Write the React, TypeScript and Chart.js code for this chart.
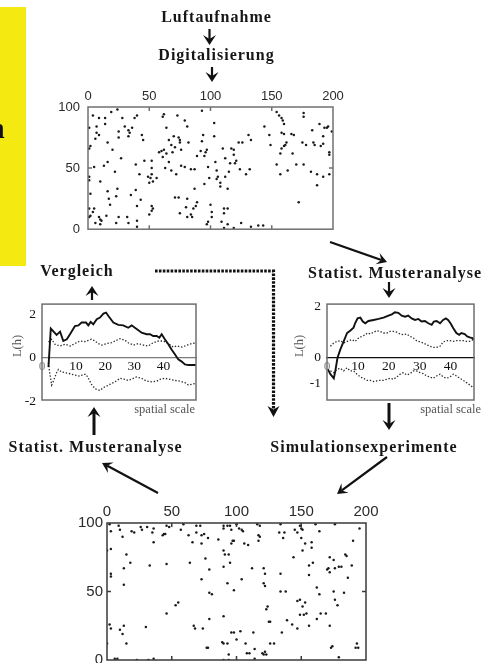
import React, { useEffect, useRef } from "react";
import { Chart, registerables } from "chart.js";
Chart.register(...registerables);

type Pt = [number, number];

// ---------- Data: digitised aerial photograph (x 0..200, y 0..100) ----------
const aerialPoints: Pt[] = [
  [4,93],[19,96],[24,98],[28,91],[9,91],[14,91],[14,86],[7,84],[1,83],[7,79],[9,77],[6,74],[25,80],[25,75],[30,84],[33,81],[34,79],[33,76],[36,83],[38,91],[40,93],[44,77],[45,73],[2,68],[1,66],[16,71],[20,65],[27,58],[5,51],[13,52],[16,55],[22,47],[1,43],[1,40],[2,29],[10,39],[24,33],[16,31],[17,25],[18,20],[23,27],[35,28],[39,32],[39,53],[46,56],[42,45],[40,19],[43,24],[1,17],[5,17],[2,11],[4,14],[1,10],[6,5],[9,10],[10,8],[10,4],[11,7],[15,11],[23,5],[25,10],[32,10],[33,5],[40,7],[40,2],
  [52,56],[52,50],[49,43],[51,42],[52,45],[53,39],[56,42],[50,38],[50,12],[52,19],[53,17],[52,15],[58,63],[61,59],[62,94],[61,92],[64,83],[62,65],[60,64],[63,50],[66,55],[64,62],[66,73],[68,48],[70,76],[68,69],[69,63],[73,93],[74,75],[75,73],[75,71],[76,65],[71,67],[72,45],[79,89],[81,84],[79,51],[82,71],[76,52],[71,26],[74,26],[75,13],[81,25],[80,18],[81,10],[84,12],[85,10],[86,17],[88,19],[87,33],[89,22],[89,60],[87,49],[84,49],
  [93,72],[92,64],[94,77],[93,97],[95,60],[96,63],[98,51],[97,65],[95,37],[97,4],[98,6],[99,42],[100,20],[101,14],[101,10],[103,87],[103,76],[104,55],[105,48],[105,41],[106,43],[108,35],[108,38],[110,66],[109,6],[111,17],[111,13],[111,1],[112,58],[112,43],[114,17],[114,4],[114,33],[115,47],[116,54],[117,66],[119,61],[119,65],[120,54],[121,56],[124,49],[125,5],[123,71],[126,71],[129,45],[131,77],[133,73],[132,49],[119,1],[133,2],[139,3],[143,3],
  [144,84],[148,77],[149,69],[154,96],[156,93],[158,91],[159,89],[160,86],[158,79],[160,78],[157,62],[158,66],[160,68],[161,69],[162,71],[154,53],[157,45],[163,48],[166,78],[168,77],[167,62],[170,53],[172,22],[176,95],[176,92],[175,71],[178,69],[176,53],[183,81],[182,47],[184,71],[185,69],[187,36],[187,45],[189,86],[190,68],[192,76],[192,70],[192,43],[193,83],[195,83],[196,84],[197,63],[197,61],[197,45],[199,80]
];

// ---------- Data: simulated pattern ----------
const simulatedPoints: Pt[] = [
  [2,99],[3,94],[9,98],[10,95],[12,90],[19,94],[21,93],[26,97],[27,95],[31,97],[35,93],[36,96],[36,86],[43,91],[44,92],[45,92],[46,98],[48,97],[57,95],[59,99],[63,91],[66,86],[69,93],[69,98],[72,98],[73,91],[75,92],[73,85],[78,89],[86,88],[90,98],[90,96],[93,98],[95,98],[96,95],[97,87],[96,85],[98,87],[100,99],[102,96],[104,95],[105,94],[106,85],[109,84],[116,99],[118,98],[117,91],[118,90],[117,87],[134,99],[133,93],[136,89],[137,93],[145,95],[147,93],[149,98],[150,96],[151,95],[150,89],[151,80],[153,85],[158,86],[158,82],[161,99],[164,94],[176,99],[190,87],[195,96],
  [0,80],[3,81],[15,77],[18,71],[13,67],[3,63],[3,61],[13,55],[33,69],[46,70],[64,71],[76,74],[79,66],[73,59],[81,48],[79,49],[90,80],[91,77],[90,68],[94,77],[95,71],[98,51],[93,56],[104,59],[112,67],[121,67],[122,63],[121,56],[122,54],[124,39],[123,37],[134,63],[134,50],[138,50],[144,75],[147,43],[149,44],[151,39],[153,42],[156,69],[156,62],[159,71],[162,53],[164,48],[162,30],[165,34],[170,66],[172,75],[172,64],[171,67],[175,73],[176,67],[175,50],[176,44],[178,40],[179,68],[181,68],[184,77],[185,76],[186,60],[183,49],[189,69],
  [194,9],[193,12],[0,12],[2,26],[3,23],[10,22],[12,19],[13,25],[15,12],[30,24],[46,34],[53,40],[55,42],[67,25],[68,23],[74,23],[77,9],[78,9],[79,30],[90,32],[90,12],[89,13],[93,12],[94,4],[96,20],[98,20],[100,15],[103,21],[107,12],[108,5],[110,5],[113,20],[114,1],[114,8],[121,4],[122,6],[123,4],[120,5],[125,28],[126,28],[126,12],[129,12],[135,20],[139,29],[143,26],[147,23],[149,33],[152,33],[156,25],[154,34],[8,1],[6,1],[23,0],[32,0],[36,1],[90,0],[94,0],[169,34],[172,25],[173,9],[174,10],[179,2],[192,9]
];

const mapTicksX = [0, 50, 100, 150, 200];
const mapTicksY = [0, 50, 100];
const mapInnerTicksX = [50, 100, 150];
const mapInnerTicksY = [50];

// ---------- Data: L-function, comparison (left) ----------
const leftObserved: Pt[] = [
  [0.5,-0.43],[1.3,1.34],[3.3,1.05],[4.5,1.2],[5.6,0.77],[6.8,0.85],[7.9,1.08],[9.6,1.46],[10.8,1.49],[11.9,1.62],[13.4,1.62],[14.2,1.49],[15.0,1.65],[15.9,1.54],[17.1,1.77],[18.2,1.85],[19.4,2.03],[20.3,2.08],[21.1,1.92],[22.8,1.62],[24.5,1.51],[26.2,1.49],[27.9,1.38],[29.1,1.49],[30.2,1.38],[31.4,1.26],[32.5,1.15],[34.2,1.08],[35.4,1.08],[36.5,1.0],[37.7,1.0],[38.6,0.92],[39.4,1.08],[40.5,0.85],[41.7,0.62],[42.8,0.38],[44.0,0.15],[45.1,-0.08],[46.3,-0.18],[47.4,-0.31],[48.6,-0.34],[51.2,-0.34]
];
const leftUpper: Pt[] = [
  [0.5,0.72],[1.6,0.85],[2.7,0.62],[4.5,0.54],[6.2,0.62],[7.9,0.54],[9.6,0.65],[11.3,0.77],[13.1,0.74],[14.2,0.8],[15.3,0.85],[16.5,0.77],[17.6,0.65],[18.8,0.58],[20.5,0.65],[22.2,0.69],[23.4,0.77],[25.1,0.88],[26.8,0.8],[27.9,0.69],[29.7,0.58],[31.4,0.65],[33.1,0.58],[34.8,0.54],[36.5,0.69],[38.3,0.77],[40.0,0.77],[41.7,0.65],[43.4,0.49],[44.6,0.54],[46.3,0.49],[48.0,0.57],[49.7,0.65],[51.2,0.69]
];
const leftLower: Pt[] = [
  [0.5,-0.23],[1.0,-0.77],[1.6,-1.26],[2.2,-1.08],[3.3,-0.69],[3.9,-0.54],[5.0,-0.66],[6.2,-0.69],[7.9,-0.74],[9.6,-0.8],[11.3,-0.85],[12.5,-0.77],[13.4,-0.77],[14.2,-0.95],[15.3,-1.23],[16.5,-1.43],[18.2,-1.51],[19.4,-1.38],[20.5,-1.31],[21.6,-1.23],[23.4,-1.11],[25.1,-0.95],[26.8,-1.0],[27.9,-1.05],[29.7,-0.95],[30.8,-0.89],[32.5,-0.95],[34.2,-1.08],[36.0,-1.11],[37.7,-1.08],[38.8,-1.0],[40.5,-0.95],[42.3,-1.0],[44.0,-1.05],[45.7,-1.08],[47.4,-1.15],[48.6,-1.26],[49.7,-1.23],[51.2,-1.18]
];

// ---------- Data: L-function, aerial pattern (right) ----------
const rightObserved: Pt[] = [
  [0.3,-0.45],[1.1,-0.64],[2.2,-0.8],[2.7,-0.51],[3.4,0],[4.3,0.32],[5.4,0.64],[6.5,0.97],[7.5,1.06],[8.6,1.18],[9.1,1.35],[9.9,1.54],[10.8,1.57],[11.6,1.42],[12.4,1.35],[13.4,1.44],[15.1,1.48],[16.7,1.52],[18.3,1.57],[19.1,1.61],[19.9,1.65],[21.0,1.7],[22.0,1.78],[23.1,1.76],[24.2,1.65],[25.3,1.61],[26.3,1.65],[27.4,1.54],[28.5,1.48],[29.6,1.52],[30.6,1.42],[31.7,1.44],[32.8,1.35],[33.9,1.29],[34.6,1.42],[35.5,1.44],[36.6,1.35],[37.6,1.48],[38.5,1.54],[39.2,1.48],[40.0,1.35],[40.9,1.16],[41.9,0.97],[42.8,0.9],[43.5,0.97],[44.6,0.93],[45.4,0.84],[46.2,0.8],[47.1,0.77],[47.6,0.71]
];
const rightUpper: Pt[] = [
  [1.1,0.45],[2.2,0.58],[3.2,0.64],[4.3,0.67],[5.4,0.58],[6.5,0.64],[8.1,0.71],[9.1,0.64],[10.2,0.77],[11.3,0.84],[12.4,0.9],[13.1,0.97],[14.0,0.93],[15.1,1.0],[16.1,1.06],[17.2,1.03],[18.3,0.97],[19.4,0.97],[20.4,1.03],[21.5,1.03],[22.6,1.0],[23.7,0.93],[24.7,0.9],[25.8,0.93],[26.9,0.84],[28.0,0.77],[29.0,0.67],[30.1,0.62],[31.2,0.58],[32.3,0.51],[33.3,0.45],[34.4,0.41],[35.5,0.41],[36.6,0.45],[37.6,0.62],[38.7,0.67],[39.8,0.67],[40.9,0.64],[41.9,0.67],[43.0,0.67],[44.1,0.67],[45.2,0.64],[46.2,0.64],[47.3,0.71]
];
const rightLower: Pt[] = [
  [1.1,-0.51],[2.2,-0.58],[3.2,-0.45],[4.3,-0.41],[5.4,-0.51],[6.5,-0.39],[7.5,-0.51],[8.6,-0.51],[9.7,-0.64],[10.8,-0.75],[11.8,-0.8],[12.9,-0.88],[14.0,-0.88],[15.1,-0.93],[16.1,-0.9],[17.2,-0.88],[18.3,-0.88],[19.4,-0.84],[20.4,-0.8],[21.5,-0.84],[22.6,-0.75],[23.7,-0.64],[24.7,-0.58],[25.8,-0.67],[26.9,-0.62],[28.0,-0.51],[29.0,-0.51],[30.1,-0.58],[31.2,-0.62],[32.3,-0.71],[33.3,-0.75],[34.4,-0.8],[35.5,-0.71],[36.6,-0.64],[37.6,-0.75],[38.7,-0.8],[39.8,-0.75],[40.9,-0.64],[41.9,-0.71],[43.0,-0.8],[44.1,-0.88],[45.2,-0.97],[46.2,-1.06],[47.3,-1.16]
];

const lTicksX = [10, 20, 30, 40];
const leftTicksY = [-2, 0, 2];
const rightTicksY = [-1, 0, 2];

const toXY = (a: Pt[]) => a.map(([x, y]) => ({ x, y }));

// ---------- plugins ----------
function mapFrame(color: string, lw: number, tickLen: number) {
  return {
    id: "mapFrame",
    afterDraw(chart: any) {
      const { ctx, chartArea: a, scales } = chart;
      const x = scales.x, y = scales.y;
      ctx.save();
      ctx.strokeStyle = color;
      ctx.lineWidth = lw;
      ctx.strokeRect(a.left, a.top, a.right - a.left, a.bottom - a.top);
      ctx.beginPath();
      for (const v of mapInnerTicksX) {
        const px = x.getPixelForValue(v);
        ctx.moveTo(px, a.top); ctx.lineTo(px, a.top + tickLen);
        ctx.moveTo(px, a.bottom); ctx.lineTo(px, a.bottom - tickLen);
      }
      for (const v of mapInnerTicksY) {
        const py = y.getPixelForValue(v);
        ctx.moveTo(a.left, py); ctx.lineTo(a.left + tickLen, py);
        ctx.moveTo(a.right, py); ctx.lineTo(a.right - tickLen, py);
      }
      ctx.stroke();
      ctx.restore();
    },
  };
}

function boxFrame(color: string, lw: number) {
  return {
    id: "boxFrame",
    afterDraw(chart: any) {
      const { ctx, chartArea: a } = chart;
      ctx.save();
      ctx.strokeStyle = color;
      ctx.lineWidth = lw;
      ctx.strokeRect(a.left, a.top, a.right - a.left, a.bottom - a.top);
      ctx.restore();
    },
  };
}

// ---------- config builders ----------
function mapConfig(o: {
  points: Pt[]; fontSize: number; axisW: number; axisH: number; padRight: number; padBottom: number;
  xPad: number; yPad: number; frameColor: string;
}) {
  const font = { family: "'Liberation Sans', Arial, sans-serif", size: o.fontSize };
  return {
    type: "scatter",
    data: {
      datasets: [{
        data: toXY(o.points),
        pointRadius: 1.25,
        pointBackgroundColor: "#1a1a1a",
        pointBorderWidth: 0,
        pointHoverRadius: 0,
      }],
    },
    options: {
      responsive: false,
      animation: false,
      events: [],
      layout: { padding: { left: 0, top: 0, right: o.padRight, bottom: o.padBottom } },
      plugins: { legend: { display: false }, tooltip: { enabled: false } },
      scales: {
        x: {
          type: "linear", position: "top", min: 0, max: 200,
          afterBuildTicks: (s: any) => { s.ticks = mapTicksX.map((v) => ({ value: v })); },
          afterFit: (s: any) => { s.height = o.axisH; },
          grid: { display: false, drawTicks: false },
          border: { display: false },
          ticks: { font, color: "#2a2a2a", padding: o.xPad, autoSkip: false, maxRotation: 0 },
        },
        y: {
          type: "linear", position: "left", min: 0, max: 100,
          afterBuildTicks: (s: any) => { s.ticks = mapTicksY.map((v) => ({ value: v })); },
          afterFit: (s: any) => { s.width = o.axisW; },
          grid: { display: false, drawTicks: false },
          border: { display: false },
          ticks: { font, color: "#2a2a2a", padding: o.yPad, autoSkip: false },
        },
      },
    },
    plugins: [mapFrame(o.frameColor, 1.5, 4)],
  };
}

function lConfig(o: {
  observed: Pt[]; upper: Pt[]; lower: Pt[]; xMin: number; xMax: number; yMin: number; yMax: number;
  ticksY: number[]; axisW: number; padTop: number; padRight: number; padBottom: number; zeroColor: string;
}) {
  const font = { family: "'Liberation Serif', 'Times New Roman', serif", size: 13.5 };
  const xTickValues = [o.xMin, ...lTicksX];
  const dotted = { borderColor: "#2a2a2a", borderWidth: 1.3, borderDash: [1.4, 1.8], pointRadius: 0, fill: false, tension: 0 };
  return {
    type: "line",
    data: {
      datasets: [
        { data: toXY(o.observed), borderColor: "#111", borderWidth: 1.9, pointRadius: 0, fill: false, tension: 0 },
        { data: toXY(o.upper), ...dotted },
        { data: toXY(o.lower), ...dotted },
      ],
    },
    options: {
      responsive: false,
      animation: false,
      events: [],
      layout: { padding: { left: 0, top: o.padTop, right: o.padRight, bottom: o.padBottom } },
      plugins: { legend: { display: false }, tooltip: { enabled: false } },
      scales: {
        x: {
          type: "linear", min: o.xMin, max: o.xMax, position: { y: 0 },
          afterBuildTicks: (s: any) => { s.ticks = xTickValues.map((v) => ({ value: v })); },
          afterFit: (s: any) => { s.height = 0; },
          grid: { display: false, drawTicks: false },
          border: { display: true, color: o.zeroColor, width: 1.2 },
          ticks: {
            font,
            padding: 1,
            autoSkip: false,
            maxRotation: 0,
            color: (c: any) => (c.tick && c.tick.value < 1 ? "#8a8a8a" : "#111"),
            callback: (v: any) => (v < 1 ? "0" : String(v)),
          },
        },
        y: {
          type: "linear", position: "left", min: o.yMin, max: o.yMax,
          afterBuildTicks: (s: any) => { s.ticks = o.ticksY.map((v) => ({ value: v })); },
          afterFit: (s: any) => { s.width = o.axisW; },
          grid: { display: false, drawTicks: false },
          border: { display: false },
          ticks: { font, color: "#111", padding: 6, autoSkip: false },
        },
      },
    },
    plugins: [boxFrame("#6f6f6f", 1.5)],
  };
}

function ChartCanvas(props: { left: number; top: number; width: number; height: number; build: () => any }) {
  const ref = useRef<HTMLCanvasElement | null>(null);
  useEffect(() => {
    if (!ref.current) return;
    const chart = new Chart(ref.current, props.build());
    return () => chart.destroy();
  }, []);
  return (
    <canvas
      ref={ref}
      width={props.width}
      height={props.height}
      style={{ position: "absolute", left: props.left, top: props.top, width: props.width, height: props.height, display: "block" }}
    />
  );
}

function Arrow(p: { x1: number; y1: number; x2: number; y2: number; w?: number; len?: number; hw?: number }) {
  const w = p.w ?? 2.2, len = p.len ?? 10, hw = p.hw ?? 6;
  const dx = p.x2 - p.x1, dy = p.y2 - p.y1;
  const L = Math.hypot(dx, dy);
  const ux = dx / L, uy = dy / L, nx = -uy, ny = ux;
  const bx = p.x2 - ux * len, by = p.y2 - uy * len;
  const mx = p.x2 - ux * len * 0.6, my = p.y2 - uy * len * 0.6;
  const pts = [
    [p.x2, p.y2], [bx + nx * hw, by + ny * hw], [mx, my], [bx - nx * hw, by - ny * hw],
  ].map((q) => q.join(",")).join(" ");
  return (
    <g>
      <line x1={p.x1} y1={p.y1} x2={mx} y2={my} stroke="#111" strokeWidth={w} />
      <polygon points={pts} fill="#111" />
    </g>
  );
}

const boldText = {
  fontFamily: "'Liberation Serif', 'Times New Roman', serif",
  fontWeight: 700 as const,
  fontSize: 16,
  letterSpacing: 1,
  fill: "#161616",
};
const smallText = {
  fontFamily: "'Liberation Serif', 'Times New Roman', serif",
  fontSize: 12.5,
  fill: "#555",
};

export default function App() {
  return (
    <div style={{ position: "absolute", left: 0, top: 0, width: 486, height: 663, overflow: "hidden", background: "#fff" }}>
      <div style={{ position: "absolute", left: 0, top: 7, width: 26, height: 259, background: "#f4ea12" }} />

      <ChartCanvas left={50} top={85} width={300} height={160}
        build={() => mapConfig({ points: aerialPoints, fontSize: 13, axisW: 38, axisH: 22, padRight: 17, padBottom: 10, xPad: 3, yPad: 8, frameColor: "#707070" })} />

      <ChartCanvas left={56} top={495} width={334} height={180}
        build={() => mapConfig({ points: simulatedPoints, fontSize: 15, axisW: 51, axisH: 28, padRight: 24, padBottom: 15, xPad: 2, yPad: 4, frameColor: "#3a3a3a" })} />

      <ChartCanvas left={0} top={290} width={210} height={135}
        build={() => lConfig({ observed: leftObserved, upper: leftUpper, lower: leftLower, xMin: -1.72, xMax: 51.2, yMin: -1.95, yMax: 2.47, ticksY: leftTicksY, axisW: 42, padTop: 12, padRight: 14, padBottom: 25, zeroColor: "#7a7a7a" })} />

      <ChartCanvas left={290} top={290} width={196} height={135}
        build={() => lConfig({ observed: rightObserved, upper: rightUpper, lower: rightLower, xMin: 0, xMax: 47.6, yMin: -1.65, yMax: 2.1, ticksY: rightTicksY, axisW: 37, padTop: 12, padRight: 12, padBottom: 25, zeroColor: "#111" })} />

      <svg width={486} height={663} style={{ position: "absolute", left: 0, top: 0, pointerEvents: "none" }}>
        <text x={-12} y={138} style={{ fontFamily: "'Liberation Serif', serif", fontWeight: 700, fontSize: 30, fill: "#111" }}>n</text>

        <text x={216.5} y={21.5} textAnchor="middle" style={boldText}>Luftaufnahme</text>
        <text x={216.5} y={60} textAnchor="middle" style={boldText}>Digitalisierung</text>
        <text x={395} y={278} textAnchor="middle" style={boldText}>Statist. Musteranalyse</text>
        <text x={77} y={276} textAnchor="middle" style={boldText}>Vergleich</text>
        <text x={95.5} y={452} textAnchor="middle" style={boldText}>Statist. Musteranalyse</text>
        <text x={364} y={452} textAnchor="middle" style={boldText}>Simulationsexperimente</text>

        <text x={195} y={413} textAnchor="end" style={smallText}>spatial scale</text>
        <text x={481} y={413} textAnchor="end" style={smallText}>spatial scale</text>
        <text transform="translate(21,346) rotate(-90)" textAnchor="middle" style={smallText}>L(h)</text>
        <text transform="translate(302.5,346) rotate(-90)" textAnchor="middle" style={smallText}>L(h)</text>

        <Arrow x1={209.5} y1={29} x2={209.5} y2={45} hw={6.5} />
        <Arrow x1={212} y1={67} x2={212} y2={82} hw={6.5} />
        <Arrow x1={330} y1={242} x2={387} y2={262} />
        <Arrow x1={389} y1={282} x2={389} y2={298} hw={6.5} />
        <Arrow x1={389} y1={403} x2={389} y2={430} w={3} hw={6.5} />
        <Arrow x1={387} y1={457} x2={337} y2={494} />
        <Arrow x1={158} y1={493} x2={102} y2={463} />
        <Arrow x1={94} y1={435} x2={94} y2={407} w={3} hw={6.5} />
        <Arrow x1={92} y1={300} x2={92} y2={286} hw={6.5} />

        <path d="M155,271 H273.5 V409" fill="none" stroke="#111" strokeWidth={3.2} strokeDasharray="2.6 1.3" />
        <polygon points="273.5,417 267.5,406 273.5,409.5 279.5,406" fill="#111" />
      </svg>
    </div>
  );
}
